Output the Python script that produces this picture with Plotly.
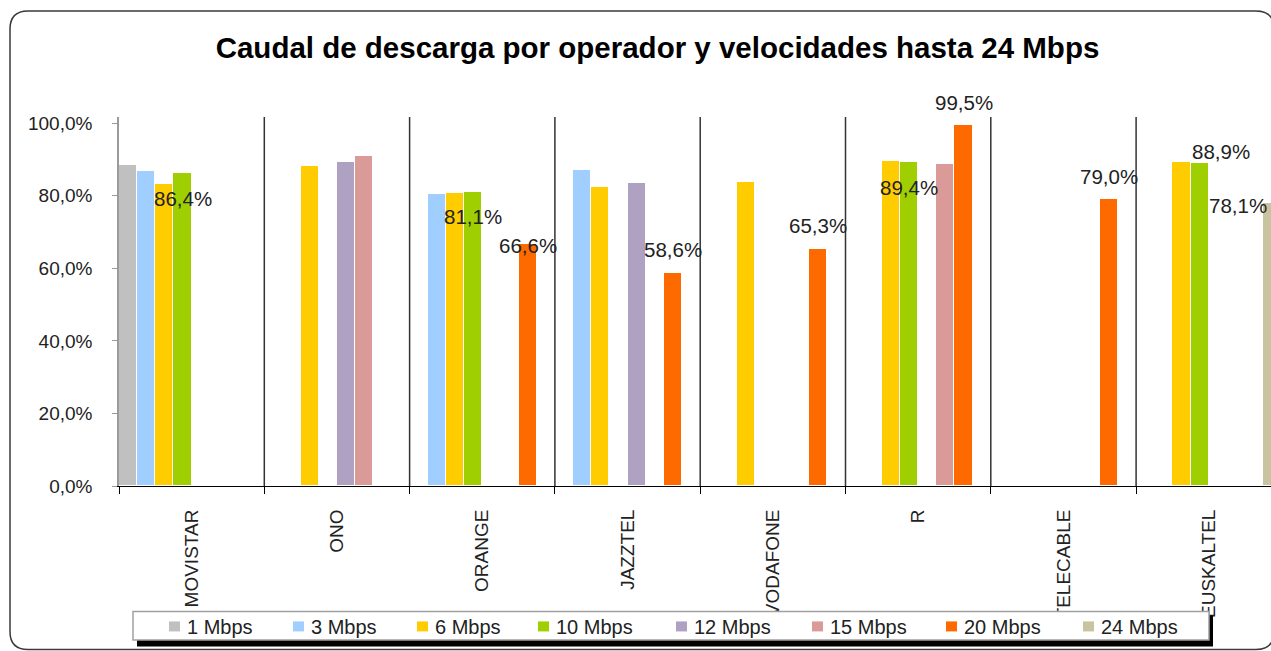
import plotly.graph_objects as go

# ---------------- data ----------------
operators = ["MOVISTAR", "ONO", "ORANGE", "JAZZTEL", "VODAFONE", "R", "TELECABLE", "EUSKALTEL"]
speeds = ["1 Mbps", "3 Mbps", "6 Mbps", "10 Mbps", "12 Mbps", "15 Mbps", "20 Mbps", "24 Mbps"]

v_1 = [88.5, None, None, None, None, None, None, None]
v_3 = [86.7, None, 80.4, 87.1, None, None, None, None]
v_6 = [83.1, 88.1, 80.7, 82.4, 83.9, 89.6, None, 89.2]
v_10 = [86.4, None, 81.1, None, None, 89.4, None, 88.9]
v_12 = [None, 89.3, None, 83.5, None, None, None, None]
v_15 = [None, 91.0, None, None, None, 88.8, None, None]
v_20 = [None, None, 66.6, 58.6, 65.3, 99.5, 79.0, None]
v_24 = [None, None, None, None, None, None, None, 78.1]

series_values = [v_1, v_3, v_6, v_10, v_12, v_15, v_20, v_24]
colors = ["#C0C0C0", "#A0CFFF", "#FFCC00", "#9FCF00", "#AFA1C2", "#DA9A98", "#FF6A00", "#C9C3A0"]

y_ticks = [0, 20, 40, 60, 80, 100]
y_tick_text = ["0,0%", "20,0%", "40,0%", "60,0%", "80,0%", "100,0%"]

# labelled points: (series index, operator index, yshift px, xshift px)
labelled = [
    (3, 0, -26, 0),
    (3, 2, -25, 0),
    (6, 2, -1, 0),
    (6, 3, 24, 0),
    (6, 4, 24, 0),
    (3, 5, -26, 0),
    (6, 5, 22, 0),
    (6, 6, 23, 0),
    (3, 7, 12, 21),
    (7, 7, -3, -34),
]

# legend swatch left edges (px)
legend_swatch_x = [169, 293, 417, 538, 676, 812, 946, 1083]

# ---------------- layout geometry ----------------
W, H = 1271, 651
GROUP_PX = 145.3
N_GROUPS = len(operators)
L, T, R_ = 119, 117, 0
B = H - 485.7
PW, PH = W - L - R_, H - T - B
X_RANGE = [-0.5, -0.5 + PW / GROUP_PX]   # last group runs past the right edge
Y_MAX = 101.7
FONT = "Liberation Sans, Arial, sans-serif"


def px_x(p):  # px -> paper x
    return (p - L) / PW


def px_y(p):  # px -> paper y
    return (H - B - p) / PH


def cat_to_paper(xv):  # category index -> paper x
    return (xv - X_RANGE[0]) / (X_RANGE[1] - X_RANGE[0])


fig = go.Figure()
for name, vals, col in zip(speeds, series_values, colors):
    fig.add_trace(go.Bar(
        x=operators, y=vals, name=name,
        marker=dict(color=col, line=dict(color="white", width=1)),
        hoverinfo="skip", showlegend=False, cliponaxis=True,
    ))

n = len(speeds)
for s, o, ys, xs in labelled:
    val = series_values[s][o]
    fig.add_annotation(
        x=cat_to_paper(o + (s - (n - 1) / 2) / n), y=val, xref="paper", yref="y",
        text=f"{val:.1f}%".replace(".", ","),
        showarrow=False, xanchor="center", yanchor="middle",
        yshift=ys, xshift=xs,
        font=dict(family=FONT, size=20.5, color="#222222"),
    )

shapes = []
# group separators
for i in range(N_GROUPS - 1):
    shapes.append(dict(type="line", xref="x", yref="y", x0=i + 0.5, x1=i + 0.5,
                       y0=0, y1=Y_MAX, line=dict(color="#333333", width=1.5), layer="above"))

# rounded outer border
x0, y0, x1, y1, r = 10, 11, 1274, 649, 18
path = (f"M {px_x(x0 + r)},{px_y(y0)} L {px_x(x1 - r)},{px_y(y0)} "
        f"Q {px_x(x1)},{px_y(y0)} {px_x(x1)},{px_y(y0 + r)} "
        f"L {px_x(x1)},{px_y(y1 - r)} Q {px_x(x1)},{px_y(y1)} {px_x(x1 - r)},{px_y(y1)} "
        f"L {px_x(x0 + r)},{px_y(y1)} Q {px_x(x0)},{px_y(y1)} {px_x(x0)},{px_y(y1 - r)} "
        f"L {px_x(x0)},{px_y(y0 + r)} Q {px_x(x0)},{px_y(y0)} {px_x(x0 + r)},{px_y(y0)} Z")
shapes.append(dict(type="path", xref="paper", yref="paper", path=path,
                   line=dict(color="#3a3a3a", width=1.5), layer="above"))

# legend: shadow, box, swatches
shapes.append(dict(type="rect", xref="paper", yref="paper",
                   x0=px_x(137), x1=px_x(1213), y0=px_y(646), y1=px_y(615),
                   fillcolor="black", line=dict(width=0), layer="above"))
shapes.append(dict(type="rect", xref="paper", yref="paper",
                   x0=px_x(133), x1=px_x(1209), y0=px_y(639.5), y1=px_y(611),
                   fillcolor="white", line=dict(color="#a0a0a0", width=1.5), layer="above"))
for sx, col, name in zip(legend_swatch_x, colors, speeds):
    shapes.append(dict(type="rect", xref="paper", yref="paper",
                       x0=px_x(sx), x1=px_x(sx + 11), y0=px_y(631), y1=px_y(621),
                       fillcolor=col, line=dict(width=0), layer="above"))
    fig.add_annotation(
        x=px_x(sx + 16), y=px_y(626.5), xref="paper", yref="paper",
        text=name, showarrow=False, xanchor="left", yanchor="middle",
        font=dict(family=FONT, size=20, color="#222222"),
    )

fig.update_layout(
    width=W, height=H,
    margin=dict(l=L, r=R_, t=T, b=B, autoexpand=False),
    paper_bgcolor="white", plot_bgcolor="white",
    barmode="group", bargap=0, bargroupgap=0,
    font=dict(family=FONT, size=19, color="#222222"),
    title=dict(
        text="<b>Caudal de descarga por operador y velocidades hasta 24 Mbps</b>",
        x=657.5 / W, xanchor="center", xref="container",
        y=1 - 48 / H, yanchor="middle", yref="container",
        font=dict(family=FONT, size=29.5, color="black"),
    ),
    xaxis=dict(
        type="category", range=X_RANGE,
        showline=True, linecolor="black", linewidth=1,
        ticks="outside", tickson="boundaries", ticklen=7, tickcolor="black",
        tickangle=-90, tickfont=dict(family=FONT, size=19, color="#222222"),
        ticklabelstandoff=15,
        showgrid=False, zeroline=False,
    ),
    yaxis=dict(
        range=[0, Y_MAX], tickvals=y_ticks, ticktext=y_tick_text,
        showline=True, linecolor="#9a9a9a", linewidth=1.5,
        ticks="outside", ticklen=5, tickcolor="#9a9a9a",
        tickfont=dict(family=FONT, size=19, color="#222222"),
        ticklabelstandoff=16,
        showgrid=False, zeroline=False,
    ),
    shapes=shapes,
    showlegend=False,
)

fig.write_html(
    "out.html",
    config={"displayModeBar": False},
    post_script="document.body.style.margin='0';document.body.style.overflow='hidden';",
)
